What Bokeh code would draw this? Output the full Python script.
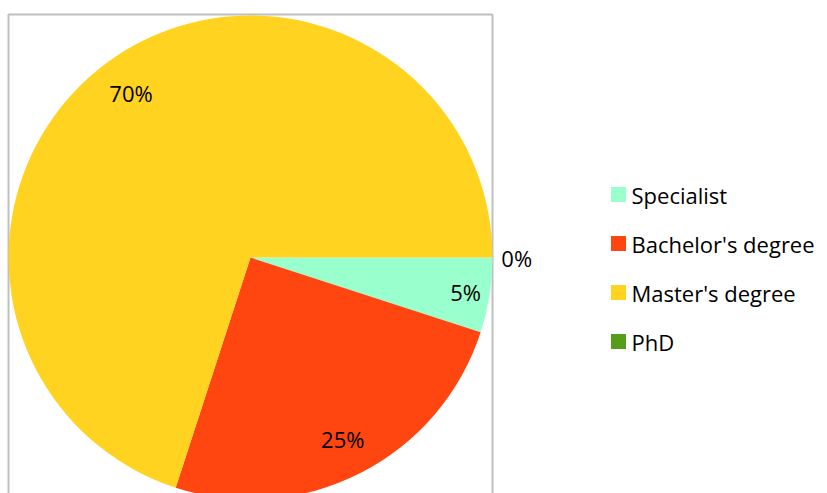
import math
from bokeh.plotting import figure
from bokeh.models import Range1d, ColumnDataSource
from bokeh.core.properties import value
from bokeh.embed import file_html
from bokeh.resources import INLINE

categories = ["Specialist", "Bachelor's degree", "Master's degree", "PhD"]
shares = [5, 25, 70, 0]
labels = ["5%", "25%", "70%", "0%"]
colors = ["#99FFCC", "#FF4611", "#FFD320", "#579D1C"]

W, H = 827, 493
p = figure(width=W, height=H, output_backend="svg", toolbar_location=None,
           x_range=Range1d(0, W), y_range=Range1d(0, H),
           min_border=0, min_border_left=0, min_border_right=0,
           min_border_top=0, min_border_bottom=0)
p.axis.visible = False
p.grid.visible = False
p.outline_line_color = None
p.background_fill_color = "white"
p.border_fill_color = "white"

cx, cy, r = 250, H - 257, 242

# frame of plot area
p.line(x=[8, 8, 492, 492], y=[-20, H - 14, H - 14, -20], line_color="#BFBFBF", line_width=2)

total = sum(shares)
starts, ends, lx, ly = [], [], [], []
cum = 0.0
for s in shares:
    a0 = -2 * math.pi * cum / total
    cum += s
    a1 = -2 * math.pi * cum / total
    starts.append(a1)
    ends.append(a0)
    mid = (a0 + a1) / 2
    f = 0.84 if s > 0 else 1.1
    if 0 < s < 10:
        f = 0.9
    lx.append(cx + f * r * math.cos(mid))
    ly.append(cy + f * r * math.sin(mid))

keep = [i for i, s in enumerate(shares) if s > 0]
src = ColumnDataSource(dict(start=[starts[i] for i in keep], end=[ends[i] for i in keep],
                            color=[colors[i] for i in keep]))
p.wedge(x=cx, y=cy, radius=r, start_angle="start", end_angle="end",
        fill_color="color", line_color=None, source=src)

p.text(x=lx, y=ly, text=labels, text_font=value("Open Sans"), text_font_size="22px",
       text_align="center", text_baseline="middle", text_color="black")

# legend
leg_y = [H - 194 - 49 * i for i in range(len(categories))]
p.rect(x=[618] * len(categories), y=leg_y, width=15, height=15, fill_color=colors, line_color=None)
p.text(x=[631] * len(categories), y=leg_y, text=categories, text_font=value("Open Sans"),
       text_font_size="22px", text_align="left", text_baseline="middle", text_color="black")

open("out.html", "w").write(file_html(p, INLINE))
